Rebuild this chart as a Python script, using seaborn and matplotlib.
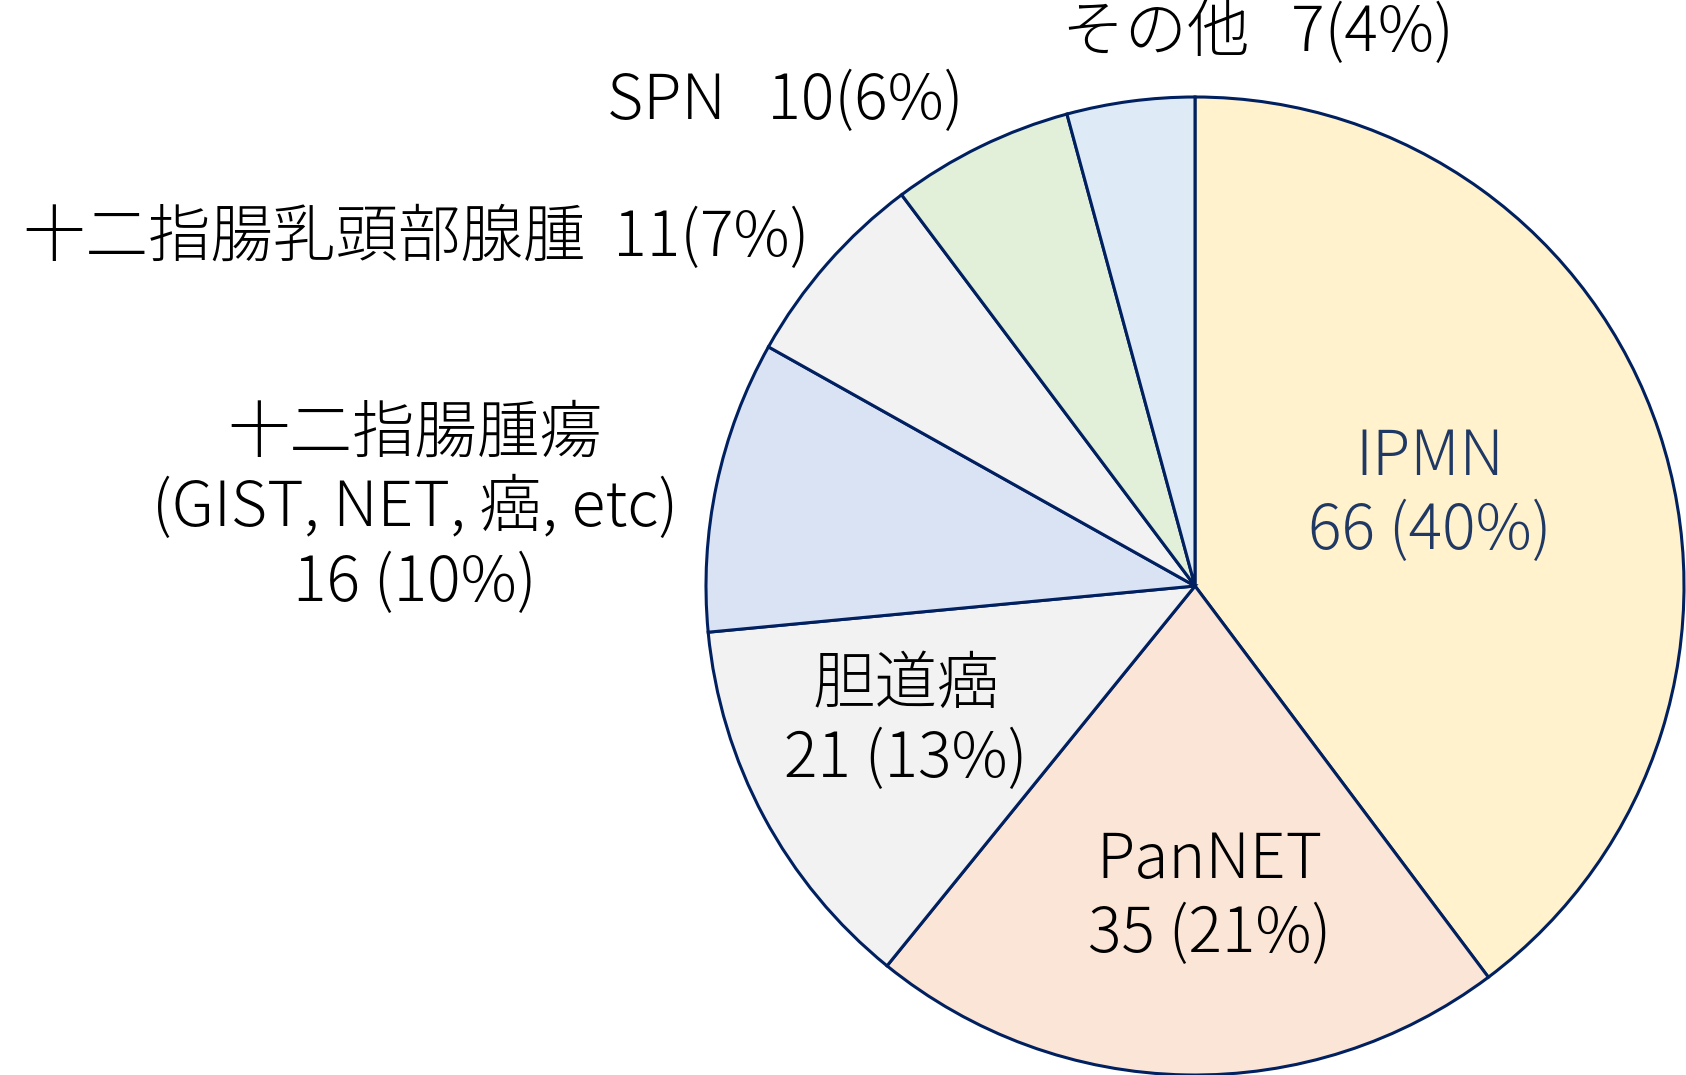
import matplotlib
matplotlib.use("Agg")
import matplotlib.pyplot as plt
import seaborn as sns

# data
labels = ["IPMN", "PanNET", "胆道癌", "十二指腸腫瘍\n(GIST, NET, 癌, etc)",
          "十二指腸乳頭部腺腫", "SPN", "その他"]
counts = [66, 35, 21, 16, 11, 10, 7]
pcts = [40, 21, 13, 10, 7, 6, 4]
colors = ["#FFF2CC", "#FBE5D6", "#F2F2F2", "#DAE3F3", "#F2F2F2", "#E2F0D9", "#DEEBF7"]

sns.set_theme(style="white")
plt.rcParams['font.family'] = ['Noto Sans CJK JP', 'DejaVu Sans']

fig = plt.figure(figsize=(16.86, 10.75), dpi=100)
# pie centre ~ (1195, 586) px, radius ~489 px
cx, cy, r = 1195, 586, 489
W, H = 1686, 1075
ax = fig.add_axes([(cx - r) / W, (H - cy - r) / H, 2 * r / W, 2 * r / H])
ax.pie(counts, colors=colors, startangle=90, counterclock=False, radius=1,
       wedgeprops=dict(edgecolor="#002060", linewidth=2.2))
ax.set_xlim(-1, 1)
ax.set_ylim(-1, 1)
ax.set_aspect("auto")
ax.axis("off")

fs = 45
ls = 1.22
navy = "#1F3864"
txt = dict(ha="center", va="center", fontsize=fs, fontweight="light", clip_on=False)
# labels inside the wedges
ax.text(0.481, 0.186, f"{labels[0]}\n{counts[0]} ({pcts[0]}%)", color=navy, linespacing=ls, **txt)
ax.text(0.030, -0.638, f"{labels[1]}\n{counts[1]} ({pcts[1]}%)", color="black", linespacing=ls, **txt)
ax.text(-0.591, -0.280, f"{labels[2]}\n{counts[2]} ({pcts[2]}%)", color="black", linespacing=ls, **txt)
# labels outside
ax.text(-1.595, 0.157, f"{labels[3]}\n{counts[3]} ({pcts[3]}%)", color="black", linespacing=ls, **txt)
ax.text(-1.593, 0.710, f"{labels[4]}  {counts[4]}({pcts[4]}%)", color="black", **txt)
ax.text(-0.838, 0.990, f"{labels[5]}   {counts[5]}({pcts[5]}%)", color="black", **txt)
ax.text(0.129, 1.129, f"{labels[6]}   {counts[6]}({pcts[6]}%)", color="black", **txt)

fig.savefig("out.png", dpi=100, facecolor="white")
